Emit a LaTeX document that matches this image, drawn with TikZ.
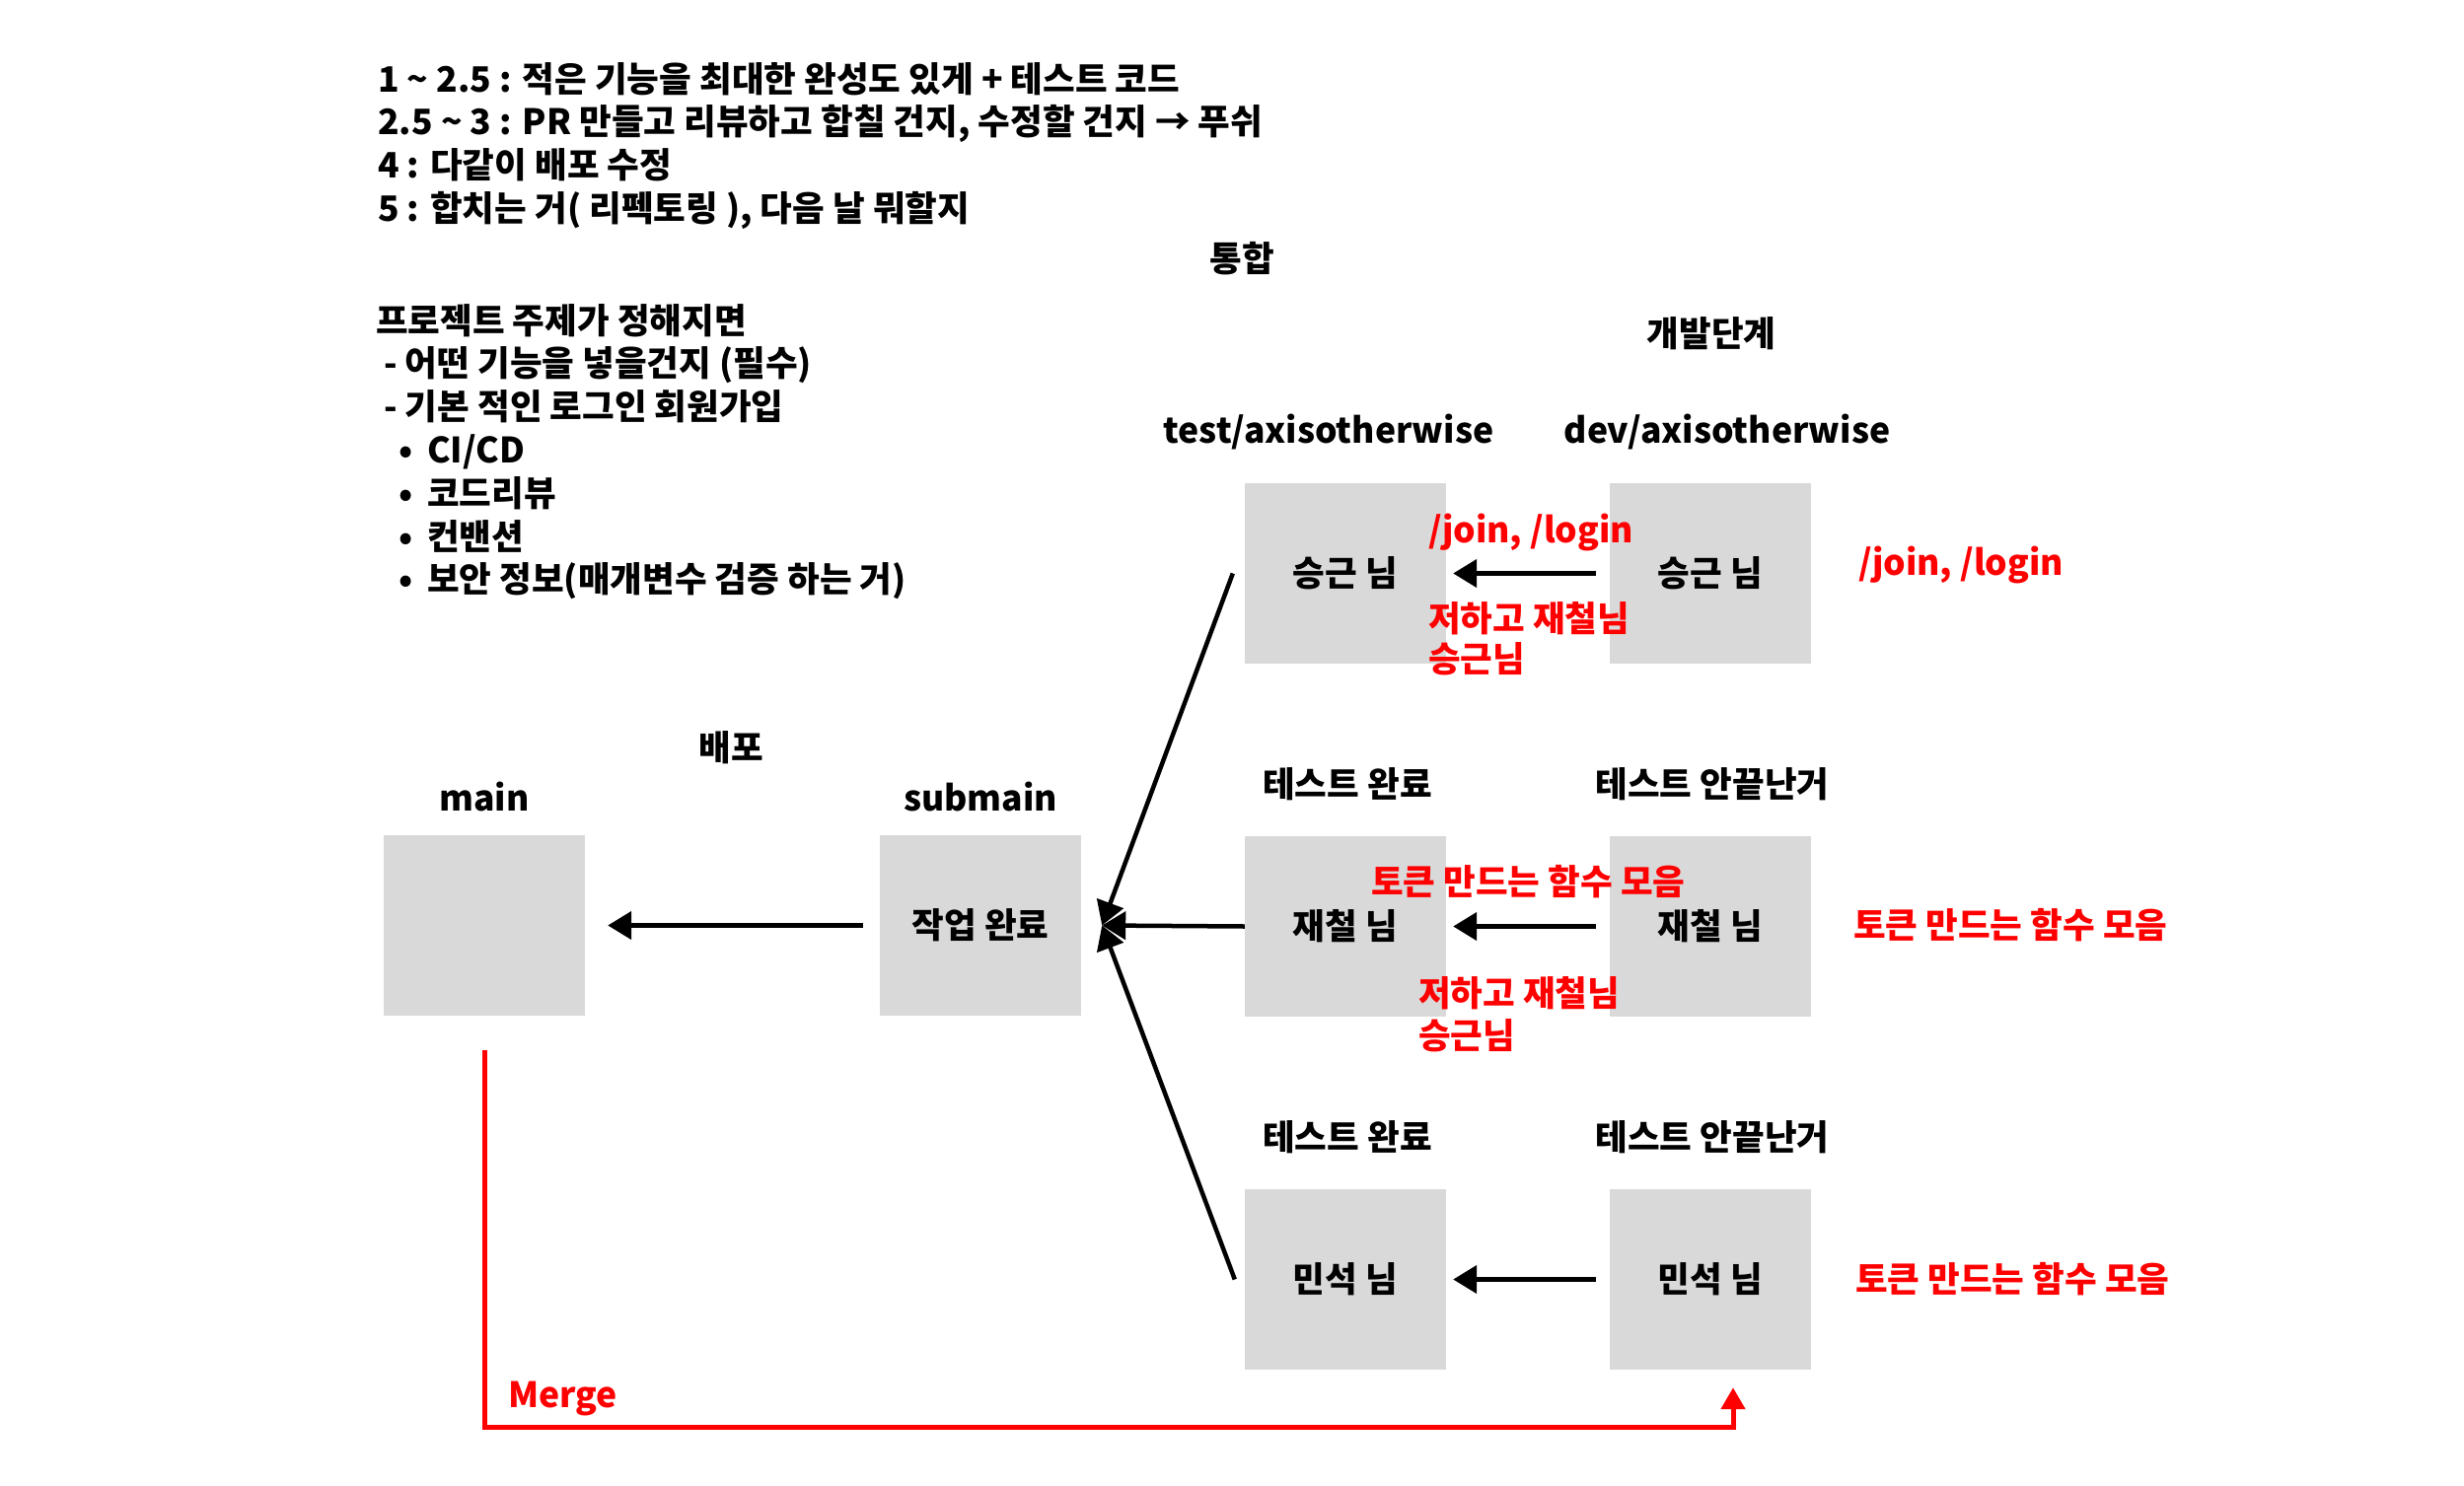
\documentclass[tikz,border=0pt]{standalone}
\usepackage{fontspec}
\setmainfont{Noto Sans CJK KR}
\usetikzlibrary{arrows.meta}
\definecolor{boxgray}{HTML}{D9D9D9}
\definecolor{memored}{HTML}{FF0000}
\newcommand\bul{\makebox[29pt][l]{•}}

\begin{document}
\begin{tikzpicture}[x=1pt, y=-1pt,
    every node/.style={font=\fontsize{35.5}{42}\selectfont\bfseries, inner sep=0pt},
    box/.style={fill=boxgray, minimum width=204pt, minimum height=183pt},
    lbl/.style={anchor=base},
    note/.style={anchor=base west},
    memo/.style={anchor=base west, text=memored},
    arr/.style={line width=4.5pt, -{Triangle[length=24pt,width=28pt]}},
    mergeline/.style={draw=memored, line width=5pt, -{Triangle[length=22pt,width=24pt]}}]
  \path[fill=white, use as bounding box] (0,0) rectangle (2498,1507);

  % plan
  \foreach \t [count=\i] in {{1 \textasciitilde{} 2.5 : 적은 기능을 최대한 완성도 있게 + 테스트 코드},
      {2.5 \textasciitilde{} 3 : PR 만들고 리뷰하고 합칠 건지, 수정할 건지 → 푸쉬},
      {4 : 다같이 배포 수정}, {5 : 합치는 거( 리펙토링 ), 다음 날 뭐할지}}
    \node[note] (plan\i) at (383, {93+43.7*(\i-1)}) {\t};
  \foreach \x/\t [count=\i] in {381/{프로젝트 주제가 정해지면}, 389/{- 어떤 기능을 넣을건지 (필수)},
      389/{- 기본 적인 로그인 회원가입}, 404/{\bul CI/CD}, 404/{\bul 코드리뷰},
      404/{\bul 컨밴션}, 404/{\bul 보안 정보(매개변수 검증 하는 거)}}
    \node[note] (topic\i) at (\x, {338+43.8*(\i-1)}) {\t};

  % deploy
  \node[lbl] (deploy) at (741, 771) {배포};
  \node[lbl] (mainlbl) at (491, 822) {main};
  \node[lbl] (sublbl) at (994, 822) {submain};
  \node[box] (main) at (491, 938.5) {};
  \node[box] (sub) at (994, 938.5) {작업 완료};

  % branches
  \node[lbl] (integ) at (1259, 275) {통합};
  \node[lbl] (devstage) at (1735, 351) {개발단계};
  \node[lbl] (testlbl) at (1347, 449) {test/axisotherwise};
  \node[lbl] (devlbl) at (1751, 449) {dev/axisotherwise};
  \foreach \i/\y in {2/808, 3/1166} {
    \node[lbl] (done\i) at (1366, \y) {테스트 완료};
    \node[lbl] (wip\i) at (1736, \y) {테스트 안끝난거};
  }
  \foreach \who [count=\i] in {승근 님, 재철 님, 민석 님} {
    \node[box] (test\i) at (1364, {581.5+358*(\i-1)}) {\who};
    \node[box] (dev\i) at (1734, {581.5+358*(\i-1)}) {\who};
    \draw[arr] ([xshift=-14pt]dev\i.west) -- ([xshift=7pt]test\i.east);
  }

  % memos
  \node[memo] (api1) at (1448, 550) {/join, /login};
  \node[memo] (with1) at (1448, 640) {저하고 재철님};
  \node[memo] (with1b) at (1448, 681) {승근님};
  \node[memo] (apiR) at (1884, 583) {/join, /login};
  \node[memo] (token2) at (1390, 907) {토큰 만드는 함수 모음};
  \node[memo] (with2) at (1438, 1020) {저하고 재철님};
  \node[memo] (with2b) at (1438, 1063) {승근님};
  \node[memo] (tokenR2) at (1879, 951) {토큰 만드는 함수 모음};
  \node[memo] (tokenR3) at (1881, 1310) {토큰 만드는 함수 모음};
  \node[memo] (mergelbl) at (515, 1427) {Merge};

  % into submain
  \coordinate (hub) at ([xshift=21pt]sub.east);
  \coordinate (from1) at ([xshift=-12pt]test1.west);
  \coordinate (from3) at ([xshift=-10pt]test3.west);
  \draw[arr] (from1) -- (hub);
  \draw[arr] (test2.west) -- (hub);
  \draw[arr] (from3) -- (hub);
  \draw[arr] ([xshift=-17pt]sub.west) -- ([xshift=23pt]main.east);

  % merge back
  \coordinate (m0) at ([yshift=-35pt]main.south);
  \coordinate (m1) at ([xshift=23pt,yshift=-18pt]dev3.south);
  \draw[mergeline] (m0) -- ++(0,382) -| (m1);
\end{tikzpicture}
\end{document}
